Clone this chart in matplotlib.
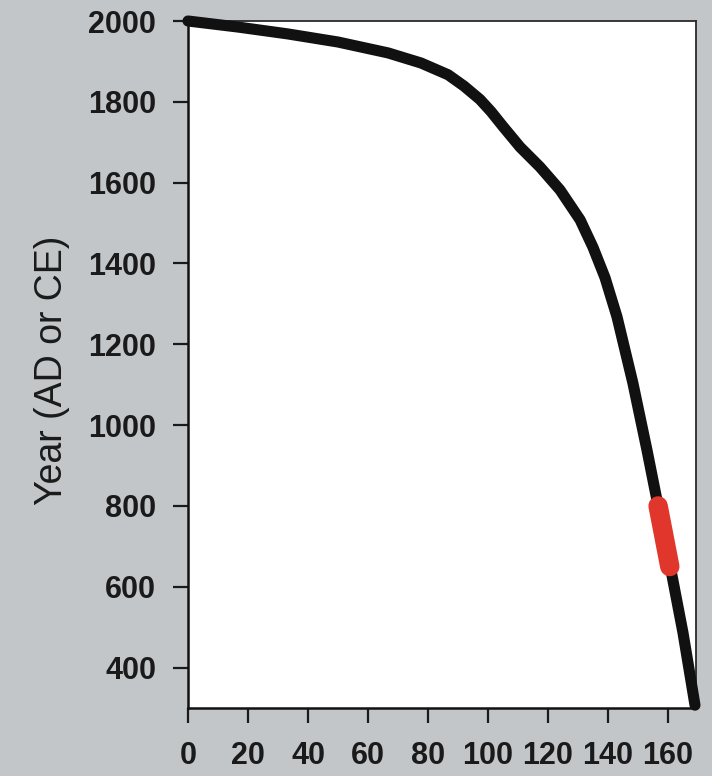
import matplotlib
matplotlib.use("Agg")
import matplotlib.pyplot as plt

# Curve: cumulative count (x) against calendar year (y)
count = [0, 16.7, 33.3, 50, 66.7, 77.7, 86.7, 92, 97.3, 101, 105, 110.7,
         117.3, 124, 130.7, 135, 139, 143, 148.3, 153, 156.3, 161.3, 165, 169]
year = [2000, 1985, 1968, 1948, 1921, 1896, 1867, 1839, 1806, 1776, 1739, 1688,
        1639, 1582, 1508, 1440, 1365, 1268, 1104, 938, 815, 629, 486, 307]

# Highlighted interval on the curve
hl_count = [156.7, 160.6]
hl_year = [800, 650]

x_ticks = [0, 20, 40, 60, 80, 100, 120, 140, 160]
y_ticks = [400, 600, 800, 1000, 1200, 1400, 1600, 1800, 2000]

bg = "#c3c6c9"
fig = plt.figure(figsize=(7.12, 7.76), dpi=100, facecolor=bg)
ax = fig.add_axes([188 / 712, 1 - 708 / 776, 508 / 712, 687 / 776])
ax.set_facecolor("white")

ax.plot(count, year, color="#111111", lw=8.0, solid_capstyle="round",
        solid_joinstyle="round", clip_on=False, zorder=3)
ax.plot(hl_count, hl_year, color="#e0362c", lw=14.0, solid_capstyle="round",
        clip_on=False, zorder=4)

ax.set_xlim(0, 508 / 3)
ax.set_ylim(300, 2000)
ax.set_xticks(x_ticks)
ax.set_yticks(y_ticks)

tick_font = dict(family="Liberation Sans", weight="bold", size=22)
ax.set_xticklabels([str(v) for v in x_ticks], fontdict=tick_font, color="#1a1a1a")
ax.set_yticklabels([str(v) for v in y_ticks], fontdict=tick_font, color="#1a1a1a")
ax.tick_params(axis="both", direction="out", length=10.8, width=1.6,
               color="#1a1a1a")
ax.tick_params(axis="x", pad=13)
ax.tick_params(axis="y", pad=12)

for side in ("left", "bottom"):
    ax.spines[side].set_linewidth(1.8)
    ax.spines[side].set_color("#111111")
for side in ("top", "right"):
    ax.spines[side].set_linewidth(1.3)
    ax.spines[side].set_color("#2a2a2a")

ax.set_ylabel("Year (AD or CE)", family="Liberation Sans", size=27,
              color="#1a1a1a")
ax.yaxis.set_label_coords(-0.232, 0.492)

fig.savefig("out.png", dpi=100, facecolor=bg)
